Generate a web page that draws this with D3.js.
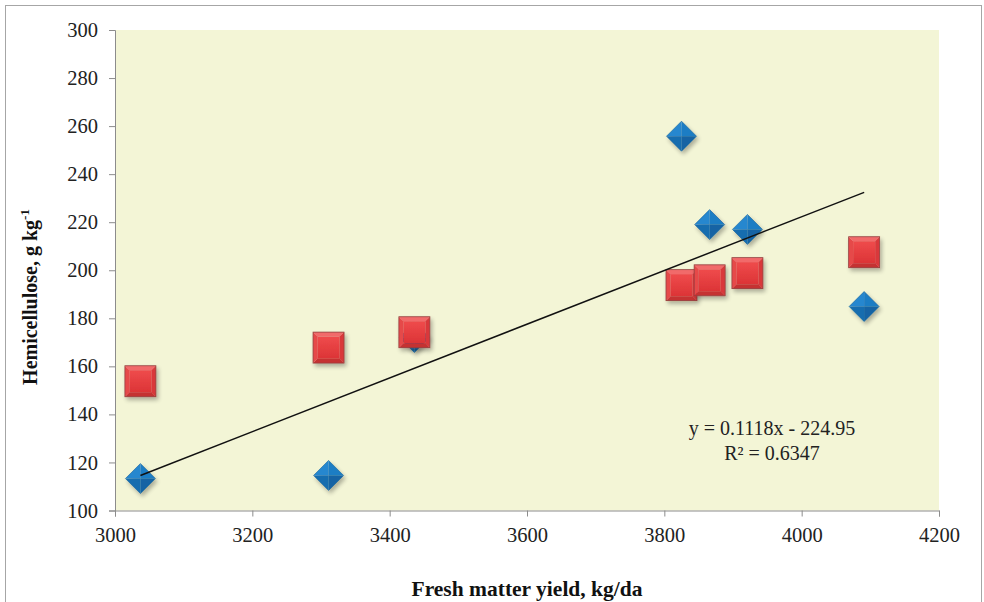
<!DOCTYPE html>
<html>
<head>
<meta charset="utf-8">
<script src="https://cdn.jsdelivr.net/npm/d3@7"></script>
<style>
  body { margin: 0; background: #fff; }
  svg { display: block; }
  svg text { font-family: "Liberation Serif", "Times New Roman", serif; }
</style>
</head>
<body>
<div id="chart"></div>
<script>
// fresh matter yield (kg/da), shared by both series
const yieldVals = [3037, 3311, 3436, 3825, 3866, 3921, 4091];
// series 1 (blue diamonds) and series 2 (red squares), g kg-1
const hemiBlue = [113.3, 114.6, 172, 255.8, 219, 217, 184.9];
const hemiRed = [153.8, 167.8, 174.2, 193.8, 195.8, 198.8, 207.5];
const xTicks = [3000, 3200, 3400, 3600, 3800, 4000, 4200];
const yTicks = [100, 120, 140, 160, 180, 200, 220, 240, 260, 280, 300];
const trend = {slope: 0.1118, intercept: -224.95, r2: 0.6347};

const W = 984, H = 602;
const margin = {top: 30, right: 45, bottom: 91.5, left: 115};
const width = W - margin.left - margin.right
    , height = H - margin.top - margin.bottom;
const serif = "'Liberation Serif', 'Times New Roman', serif";

const svg = d3.select("#chart").append("svg")
    .attr("width", W)
    .attr("height", H);

// outer frame
svg.append("rect")
    .attr("x", 5.5).attr("y", 5.5)
    .attr("width", 976).attr("height", 620)
    .attr("fill", "#fff")
    .attr("stroke", "#a6a6a6");

const defs = svg.append("defs");
const sh = defs.append("filter").attr("id", "shadow")
    .attr("x", "-50%").attr("y", "-50%").attr("width", "200%").attr("height", "200%");
sh.append("feGaussianBlur").attr("in", "SourceAlpha").attr("stdDeviation", 2);
sh.append("feOffset").attr("dx", 2).attr("dy", 3).attr("result", "b");
sh.append("feComponentTransfer").append("feFuncA").attr("type", "linear").attr("slope", 0.3);
const m = sh.append("feMerge");
m.append("feMergeNode");
m.append("feMergeNode").attr("in", "SourceGraphic");

const face = defs.append("linearGradient").attr("id", "redFace")
    .attr("x1", 0).attr("y1", 0).attr("x2", 0).attr("y2", 1);
face.append("stop").attr("offset", "0%").attr("stop-color", "#ef4b4c");
face.append("stop").attr("offset", "100%").attr("stop-color", "#dc3436");

const g = svg.append("g")
    .attr("transform", `translate(${margin.left},${margin.top})`);

g.append("rect")
    .attr("width", width).attr("height", height)
    .attr("fill", "#f3f5d6");

const x = d3.scaleLinear().domain([3000, 4200]).range([0, width]);
const y = d3.scaleLinear().domain([100, 300]).range([height, 0]);

const xAxis = g.append("g")
    .attr("transform", `translate(0,${height})`)
    .call(d3.axisBottom(x).tickValues(xTicks).tickSize(6).tickPadding(10).tickFormat(d3.format("d")));
const yAxis = g.append("g")
    .call(d3.axisLeft(y).tickValues(yTicks).tickSize(6).tickPadding(10).tickFormat(d3.format("d")));

[xAxis, yAxis].forEach(a => {
    a.attr("font-family", null).attr("font-size", null);
    a.select(".domain").attr("stroke", "#8c8c8c");
    a.selectAll(".tick line").attr("stroke", "#8c8c8c");
    a.selectAll(".tick text")
        .attr("fill", "#222")
        .style("font-family", serif)
        .style("font-size", "20.5px");
});
xAxis.selectAll(".tick text").attr("dy", "0.75em");
yAxis.selectAll(".tick text").attr("x", -17);

const pts = yieldVals.map((v, i) => ({x: v, blue: hemiBlue[i], red: hemiRed[i]}));

// blue diamonds
const r = 15;
const diamonds = g.append("g").selectAll("g")
    .data(pts).enter().append("g")
    .attr("transform", d => `translate(${x(d.x)},${y(d.blue)})`)
    .attr("filter", "url(#shadow)");
const facets = [
    {p: [[0, 0], [-r, 0], [0, -r]], c: "#2787cf"},
    {p: [[0, 0], [0, -r], [r, 0]], c: "#1f7dc4"},
    {p: [[0, 0], [r, 0], [0, r]], c: "#1264a4"},
    {p: [[0, 0], [0, r], [-r, 0]], c: "#176daf"}
];
facets.forEach(f => {
    diamonds.append("path")
        .attr("d", "M" + f.p.map(q => q.join(",")).join("L") + "Z")
        .attr("fill", f.c);
});
diamonds.append("path")
    .attr("d", `M0,${-r}L${r},0L0,${r}L${-r},0Z`)
    .attr("fill", "none")
    .attr("stroke", "#10609c")
    .attr("stroke-width", 0.6);

// red squares
const s = 15.5, b = 4.5;
const squares = g.append("g").selectAll("g")
    .data(pts).enter().append("g")
    .attr("transform", d => `translate(${x(d.x)},${y(d.red)})`)
    .attr("filter", "url(#shadow)");
const bevel = [
    {p: [[-s, -s], [s, -s], [s - b, -s + b], [-s + b, -s + b]], c: "#f16a6b"},
    {p: [[s, -s], [s, s], [s - b, s - b], [s - b, -s + b]], c: "#d9393b"},
    {p: [[s, s], [-s, s], [-s + b, s - b], [s - b, s - b]], c: "#c53032"},
    {p: [[-s, s], [-s, -s], [-s + b, -s + b], [-s + b, s - b]], c: "#e6484a"}
];
bevel.forEach(f => {
    squares.append("path")
        .attr("d", "M" + f.p.map(q => q.join(",")).join("L") + "Z")
        .attr("fill", f.c);
});
squares.append("rect")
    .attr("x", -s + b).attr("y", -s + b)
    .attr("width", 2 * (s - b)).attr("height", 2 * (s - b))
    .attr("fill", "url(#redFace)");
squares.append("rect")
    .attr("x", -s).attr("y", -s)
    .attr("width", 2 * s).attr("height", 2 * s)
    .attr("fill", "none")
    .attr("stroke", "#94403f")
    .attr("stroke-width", 0.8);

// linear trendline of the blue series
const [x0, x1] = d3.extent(yieldVals);
g.append("line")
    .attr("x1", x(x0)).attr("y1", y(trend.slope * x0 + trend.intercept))
    .attr("x2", x(x1)).attr("y2", y(trend.slope * x1 + trend.intercept))
    .attr("stroke", "#111")
    .attr("stroke-width", 1.5);

// equation label
const eq = g.append("text")
    .attr("x", 657).attr("y", 405)
    .attr("text-anchor", "middle")
    .style("font-size", "20px")
    .attr("fill", "#222");
eq.append("tspan").text(`y = ${trend.slope}x - ${Math.abs(trend.intercept)}`);
eq.append("tspan").attr("x", 657).attr("dy", 25).text(`R² = ${trend.r2}`);

// axis titles
svg.append("text")
    .attr("x", margin.left + width / 2).attr("y", 596)
    .attr("text-anchor", "middle")
    .attr("font-weight", "bold")
    .style("font-size", "21.5px")
    .attr("fill", "#111")
    .text("Fresh matter yield, kg/da");

const yt = svg.append("text")
    .attr("transform", "translate(37,297) rotate(-90)")
    .attr("text-anchor", "middle")
    .attr("font-weight", "bold")
    .style("font-size", "20px")
    .attr("fill", "#111");
yt.append("tspan").text("Hemicellulose, g kg");
yt.append("tspan").attr("dy", -8).style("font-size", "13px").text("-1");
</script>
</body>
</html>
